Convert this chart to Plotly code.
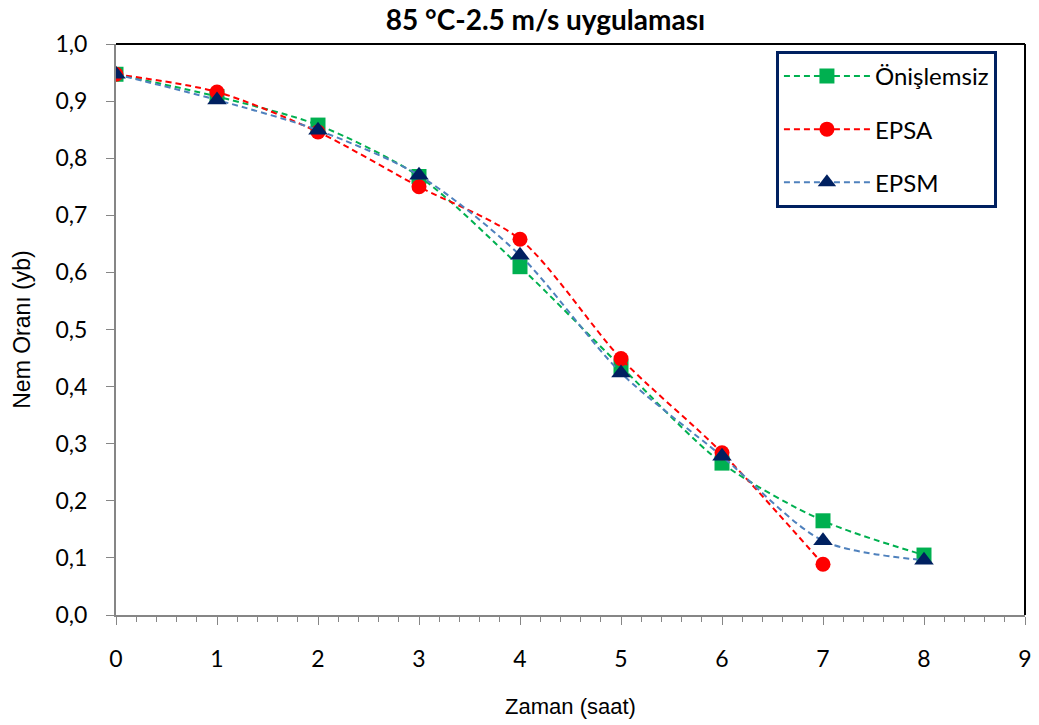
import plotly.graph_objects as go

zaman = [0, 1, 2, 3, 4, 5, 6, 7, 8]
zaman_epsa = [0, 1, 2, 3, 4, 5, 6, 7]
onislemsiz = [0.947, 0.908, 0.858, 0.768, 0.610, 0.435, 0.266, 0.165, 0.105]
epsa = [0.947, 0.916, 0.846, 0.750, 0.658, 0.449, 0.284, 0.089]
epsm = [0.947, 0.902, 0.849, 0.770, 0.630, 0.424, 0.278, 0.130, 0.096]
x_ticks = [0, 1, 2, 3, 4, 5, 6, 7, 8, 9]

FONT = "Lato"
AFONT = "Liberation Sans"
DASH = "6px,4px"
fig = go.Figure()
fig.add_trace(go.Scatter(x=zaman, y=onislemsiz, name="Önişlemsiz", legendgroup="a",
                         mode="lines+markers",
                         line=dict(color="#00B050", width=2, dash=DASH, shape="spline", smoothing=0.8),
                         marker=dict(symbol="square", size=15, color="#00B050")))
fig.add_trace(go.Scatter(x=zaman_epsa, y=epsa, name="EPSA", legendgroup="b",
                         mode="lines+markers",
                         line=dict(color="#FF0000", width=2, dash=DASH, shape="spline", smoothing=0.8),
                         marker=dict(symbol="circle", size=15, color="#FF0000")))
fig.add_trace(go.Scatter(x=zaman, y=epsm, name="EPSM", legendgroup="c",
                         mode="lines+markers",
                         line=dict(color="#4F81BD", width=2, dash=DASH, shape="spline", smoothing=0.8),
                         marker=dict(symbol="triangle-up", size=17, color="#002060")))

fig.update_layout(
    width=1039, height=725,
    margin=dict(l=116, r=14, t=44, b=110),
    paper_bgcolor="white", plot_bgcolor="white",
    separators=",.",
    font=dict(family=FONT, size=23, color="black"),
    title=dict(text="<b>85 °C-2.5 m/s uygulaması</b>", x=0.525, xanchor="center",
               y=0.972, yanchor="middle", font=dict(size=28, family=FONT)),
    legend=dict(x=0.726, y=0.988, xanchor="left", yanchor="top",
                bordercolor="#002060", borderwidth=3, bgcolor="white",
                tracegroupgap=19, font=dict(size=24, family=FONT),
                itemwidth=86),
    showlegend=True,
    xaxis=dict(range=[0, 9], tickvals=x_ticks, ticks="outside", ticklen=8,
               tickcolor="#868686", tickwidth=1, showline=True, linecolor="#868686",
               linewidth=2, showgrid=False, zeroline=False, ticklabelstandoff=14,
               automargin=False,
               minor=dict(dtick=0.2, ticks="outside", ticklen=5, tickcolor="#868686", showgrid=False),
               title=dict(text="Zaman (saat)", standoff=28, font=dict(size=22, family=AFONT)),
               tickfont=dict(size=23)),
    xaxis2=dict(range=[0, 9], tickvals=x_ticks, overlaying="x", side="bottom",
                ticks="inside", ticklen=8, tickcolor="#868686", tickwidth=1,
                showticklabels=False, showline=False, showgrid=False, zeroline=False),
    yaxis=dict(range=[0, 1.0], dtick=0.1, tickformat=".1f", ticks="outside", ticklen=8,
               tickcolor="#868686", showline=True, linecolor="#868686", linewidth=2,
               showgrid=False, zeroline=False, ticklabelstandoff=14, automargin=False,
               title=dict(text="Nem Oranı (yb)", standoff=18, font=dict(size=23, family=AFONT)),
               tickfont=dict(size=23)),
)
# top and right borders of plot area
fig.add_shape(type="line", xref="x domain", yref="y domain", x0=0, x1=1, y0=1, y1=1,
              line=dict(color="black", width=2))
fig.add_shape(type="line", xref="x domain", yref="y domain", x0=1, x1=1, y0=0, y1=1,
              line=dict(color="black", width=2))
fig.write_html("out.html")
